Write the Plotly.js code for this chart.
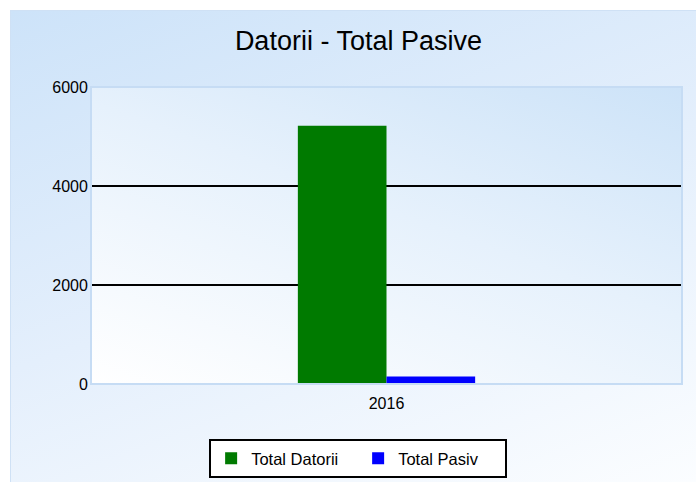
<!DOCTYPE html>
<html>
<head>
<meta charset="utf-8">
<script src="https://cdn.plot.ly/plotly-3.0.1.min.js"></script>
<style>
  html, body { margin: 0; padding: 0; background: #ffffff; }
  #wrap { position: relative; width: 696px; height: 482px; overflow: hidden; background: #ffffff; }
  #outerbg { position: absolute; left: 10px; top: 10px; width: 686px; height: 472px;
    background: linear-gradient(160deg, #cde3f9 0%, #e4effc 50%, #fbfdff 100%);
    border-left: 1px solid #cfe1f5; border-top: 1px solid #cfe1f5; box-sizing: border-box; }
  #plotbg { position: absolute; left: 91px; top: 87px; width: 591px; height: 297px;
    background: linear-gradient(20deg, #ffffff 0%, #e6f1fc 55%, #cde3f8 100%); }
  #chart { position: absolute; left: 0; top: 0; width: 696px; height: 482px; }
</style>
</head>
<body>
<div id="wrap">
  <div id="outerbg"></div>
  <div id="plotbg"></div>
  <div id="chart"></div>
</div>
<script>
const categories = ["2016"];
const totalDatorii = [5215];
const totalPasiv = [150];
const seriesNames = ["Total Datorii", "Total Pasiv"];
const yTicks = [0, 2000, 4000, 6000];
const chartTitle = "Datorii - Total Pasive";

const font = "Arial, 'Liberation Sans', sans-serif";

const traces = [
  { type: "bar", name: seriesNames[0], x: categories, y: totalDatorii,
    marker: { color: "#007a00", line: { width: 0 } }, hoverinfo: "skip" },
  { type: "bar", name: seriesNames[1], x: categories, y: totalPasiv,
    marker: { color: "#0000ff", line: { width: 0 } }, hoverinfo: "skip" }
];

const layout = {
  width: 696, height: 482,
  paper_bgcolor: "rgba(0,0,0,0)",
  plot_bgcolor: "rgba(0,0,0,0)",
  margin: { l: 91, r: 14, t: 87, b: 98, pad: 0, autoexpand: false },
  font: { family: font, size: 16, color: "#000000" },
  title: { text: chartTitle, font: { family: font, size: 27, color: "#000000" },
    x: 0.515, xanchor: "center", y: 0.915, yanchor: "middle" },
  barmode: "group",
  bargap: 0.7,
  bargroupgap: 0,
  showlegend: true,
  legend: { orientation: "h", x: 0.452, xanchor: "center", y: -0.185, yanchor: "top",
    bgcolor: "#ffffff", bordercolor: "#000000", borderwidth: 2,
    entrywidth: 102, entrywidthmode: "pixels",
    font: { family: font, size: 16.5, color: "#000000" }, traceorder: "normal" },
  xaxis: { type: "category", showgrid: false, zeroline: false, ticks: "",
    showline: false, ticklabelstandoff: 8,
    tickfont: { family: font, size: 16, color: "#000000" } },
  yaxis: { range: [0, 6000], tickvals: yTicks, ticktext: yTicks.map(String),
    showgrid: true, gridcolor: "#000000", gridwidth: 2, zeroline: false,
    anchor: "free", position: 0.0102,
    ticks: "outside", ticklen: 6, tickwidth: 2, tickcolor: "#000000",
    showline: false, ticklabelstandoff: 0,
    tickfont: { family: font, size: 16, color: "#000000" } },
  shapes: [
    { type: "rect", xref: "paper", yref: "paper", x0: 0, x1: 1, y0: 0, y1: 1,
      line: { color: "#c6dcf4", width: 2 }, fillcolor: "rgba(0,0,0,0)", layer: "above" }
  ]
};

Plotly.newPlot("chart", traces, layout, { staticPlot: true, displayModeBar: false });
</script>
</body>
</html>
